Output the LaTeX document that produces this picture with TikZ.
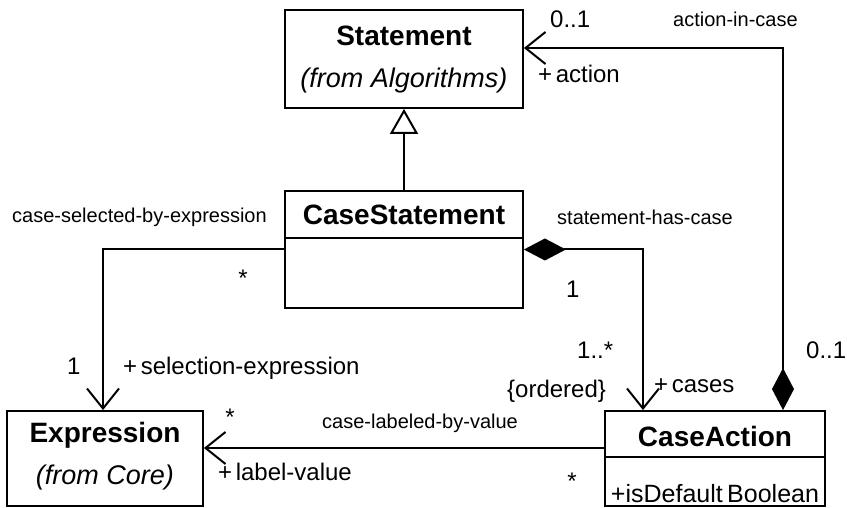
\documentclass[tikz,border=0pt]{standalone}
\usepackage{fontspec}
\setmainfont{Liberation Sans}
\usetikzlibrary{arrows.meta}
\begin{document}
\begin{tikzpicture}[x=1pt,y=-1pt,
  classbox/.style={draw, line width=1.8pt, inner sep=0pt, fill=white},
  cname/.style={font=\fontsize{28}{31}\selectfont\bfseries, anchor=base, inner sep=0pt},
  cfrom/.style={font=\fontsize{27}{30}\selectfont\itshape, anchor=base, inner sep=0pt},
  attr/.style={font=\fontsize{25}{28}\selectfont, anchor=base, inner sep=0pt},
  role/.style={font=\fontsize{24}{28}\selectfont, anchor=base west, inner sep=0pt},
  assoc/.style={font=\fontsize{20}{24}\selectfont, anchor=base west, inner sep=0pt},
  conn/.style={line width=2pt},
  navarrow/.style={-{Straight Barb[length=20pt,width=32pt,line width=2pt]}},
  comparrow/.style={{Diamond[length=42pt,width=22pt]}-{Straight Barb[length=20pt,width=32pt,line width=2pt]}},
  genarrow/.style={-{Triangle[open,length=25pt,width=28pt,line width=2pt,fill=white]}}
]
\useasboundingbox (0,0) rectangle (847,508);

% class boxes
\node[classbox, minimum width=238pt, minimum height=98pt] (stmt) at (404,59) {};
\node[classbox, minimum width=238pt, minimum height=117pt] (cs) at (404,249.5) {};
\node[classbox, minimum width=196pt, minimum height=95pt] (expr) at (105,458.5) {};
\node[classbox, minimum width=220pt, minimum height=95pt] (ca) at (715,458.5) {};

% compartments
\draw[line width=1.8pt] ([yshift=-48pt]cs.north west) -- ([yshift=-48pt]cs.north east);
\draw[line width=1.8pt] ([yshift=-47pt]ca.north west) -- ([yshift=-47pt]ca.north east);

% class texts
\node[cname] (stmtname) at (404,46) {Statement};
\node[cfrom] (stmtfrom) at (404,88) {(from Algorithms)};
\node[cname] (csname) at (404,225) {CaseStatement};
\node[cname] (exprname) at (105,442) {Expression};
\node[cfrom] (exprfrom) at (105,484) {(from Core)};
\node[cname] (caname) at (715,446) {CaseAction};
\node[attr] (caattr) at (715,502) {+isDefault\kern-0.1em\ Boolean};

% connectors
\draw[conn, genarrow] (cs.north) -- (stmt.south);
\draw[conn, comparrow] ([xshift=68pt]ca.north) |- ([yshift=11pt]stmt.east);
\draw[conn, comparrow] (cs.east) -| ([xshift=-72pt]ca.north);
\draw[conn, navarrow] (cs.west) -| ([xshift=-2pt]expr.north);
\draw[conn, navarrow] ([yshift=10.5pt]ca.west) -- ([yshift=10.5pt]expr.east);

% association labels
\node[role] (m1) at (550,28) {0..1};
\node[assoc] (an1) at (673,27) {action-in-case};
\node[role] (r1) at (538,83) {+\kern0.15em action};
\node[assoc] (an2) at (12,223) {case-selected-by-expression};
\node[role, anchor=center] (m2) at (243,278) {*};
\node[assoc] (an3) at (557,225) {statement-has-case};
\node[role] (m3) at (566,297) {1};
\node[role] (m4) at (67,374) {1};
\node[role] (r2) at (123,374) {+\kern0.15em selection-expression};
\node[role, anchor=center] (m5) at (230,417) {*};
\node[assoc] (an4) at (322,428) {case-labeled-by-value};
\node[role] (r3) at (218,480) {+\kern0.15em label-value};
\node[role, anchor=center] (m6) at (572,481) {*};
\node[role] (m7) at (577,358) {1..*};
\node[role] (r4) at (507,397) {\{ordered\}};
\node[role] (r5) at (654,392) {+\kern0.15em cases};
\node[role] (m8) at (806,358) {0..1};
\end{tikzpicture}
\end{document}
